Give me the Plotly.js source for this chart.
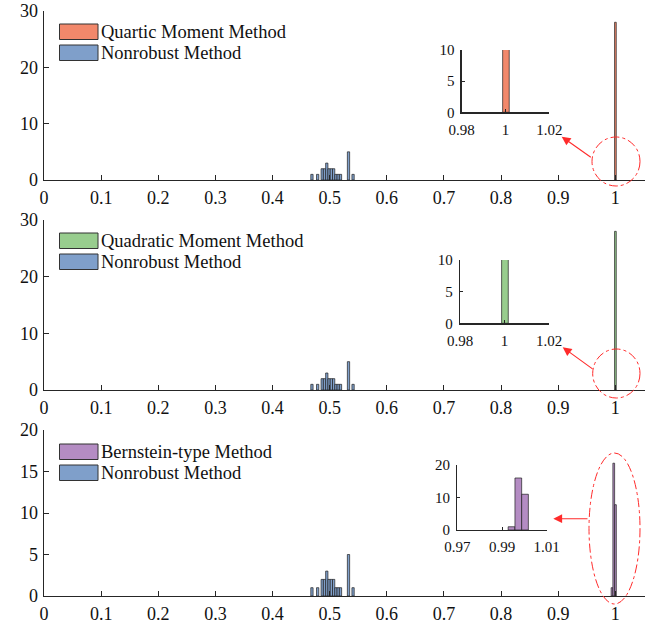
<!DOCTYPE html>
<html>
<head>
<meta charset="utf-8">
<script src="https://cdn.plot.ly/plotly-3.0.1.min.js"></script>
<style>html,body{margin:0;padding:0;background:#fff;}#chart{width:668px;height:626px;}</style>
</head>
<body>
<div id="chart"></div>
<script>
// ---- data ----
const xTickVals = [0, 0.1, 0.2, 0.3, 0.4, 0.5, 0.6, 0.7, 0.8, 0.9, 1];
const xTickText = ['0', '0.1', '0.2', '0.3', '0.4', '0.5', '0.6', '0.7', '0.8', '0.9', '1'];

const nonrobustX = [0.469, 0.479, 0.487, 0.491, 0.495, 0.499, 0.503, 0.507, 0.511, 0.515, 0.519, 0.533, 0.541];
const nonrobustCount = [1, 1, 2, 2, 3, 2, 2, 2, 1, 1, 1, 5, 1];
const nonrobustWidth = 0.004;

const quarticX = [1.0002];
const quarticCount = [28];
const quadraticX = [1.0002];
const quadraticCount = [28];
const bernsteinX = [0.99425, 0.9973, 1.0003];
const bernsteinCount = [1, 16, 11];
const methodWidth = 0.003;

const legendNames1 = ['Quartic Moment Method', 'Nonrobust Method'];
const legendNames2 = ['Quadratic Moment Method', 'Nonrobust Method'];
const legendNames3 = ['Bernstein-type Method', 'Nonrobust Method'];

const inset1Ticks = [0.98, 1, 1.02], inset1Text = ['0.98', '1', '1.02'];
const inset3Ticks = [0.97, 0.99, 1.01], inset3Text = ['0.97', '0.99', '1.01'];

// ---- style ----
const C = {
  blue: '#7f9fca', orange: '#f2886b', green: '#98cd8e', purple: '#b48cc3',
  edge: '#1f1f1f', axis: '#262626', red: '#ff2b2b'
};
const FONT = 'Liberation Serif, Times New Roman, serif';
const W = 668, H = 626, ML = 44, MR = 23, MT = 11, MB = 30;
const PW = W - ML - MR, PH = H - MT - MB;
const px = p => (p - ML) / PW;
const py = p => 1 - (p - MT) / PH;

function bar(x, y, color, w, xa, ya) {
  return {
    type: 'bar', x: x, y: y, width: x.map(() => w), xaxis: xa, yaxis: ya,
    marker: {color: color, line: {color: C.edge, width: 0.7}},
    showlegend: false, hoverinfo: 'skip'
  };
}

const data = [
  bar(nonrobustX, nonrobustCount, C.blue, nonrobustWidth, 'x', 'y'),
  bar(quarticX, quarticCount, C.orange, methodWidth, 'x', 'y'),
  bar(nonrobustX, nonrobustCount, C.blue, nonrobustWidth, 'x2', 'y2'),
  bar(quadraticX, quadraticCount, C.green, methodWidth, 'x2', 'y2'),
  bar(nonrobustX, nonrobustCount, C.blue, nonrobustWidth, 'x3', 'y3'),
  bar(bernsteinX, bernsteinCount, C.purple, methodWidth, 'x3', 'y3'),
  bar(quarticX, quarticCount, C.orange, methodWidth, 'x4', 'y4'),
  bar(quadraticX, quadraticCount, C.green, methodWidth, 'x5', 'y5'),
  bar(bernsteinX, bernsteinCount, C.purple, methodWidth, 'x6', 'y6')
];

function xax(anchor, domain, range, tv, tt, size, len, so) {
  return {
    anchor: anchor, domain: domain, range: range, tickvals: tv, ticktext: tt,
    showline: true, linecolor: C.axis, linewidth: 1.3, ticks: 'inside', ticklen: len,
    tickcolor: C.axis, tickwidth: 1, showgrid: false, zeroline: false, fixedrange: true,
    ticklabelstandoff: so,
    tickfont: {family: FONT, size: size, color: '#111'}
  };
}
function yax(anchor, domain, range, tv, size, len, so) {
  return {
    anchor: anchor, domain: domain, range: range, tickvals: tv, ticktext: tv.map(String),
    showline: true, linecolor: C.axis, linewidth: 1.3, ticks: 'inside', ticklen: len,
    tickcolor: C.axis, tickwidth: 1, showgrid: false, zeroline: false, fixedrange: true,
    ticklabelstandoff: so,
    tickfont: {family: FONT, size: size, color: '#111'}
  };
}

const mainX = [0, 1];
const xr = [0, 1.052];
const layout = {
  width: W, height: H,
  margin: {l: ML, r: MR, t: MT, b: MB, pad: 0},
  paper_bgcolor: '#fff', plot_bgcolor: 'rgba(0,0,0,0)',
  barmode: 'overlay', showlegend: false,
  font: {family: FONT, size: 18, color: '#111'},
  xaxis: xax('y', mainX, xr, xTickVals, xTickText, 18, 5, 1),
  yaxis: yax('x', [py(180), 1], [0, 30], [0, 10, 20, 30], 18, 5, 1),
  xaxis2: xax('y2', mainX, xr, xTickVals, xTickText, 18, 5, 1),
  yaxis2: yax('x2', [py(390), py(220)], [0, 30], [0, 10, 20, 30], 18, 5, 1),
  xaxis3: xax('y3', mainX, xr, xTickVals, xTickText, 18, 5, 1),
  yaxis3: yax('x3', [0, py(430)], [0, 20], [0, 5, 10, 15, 20], 18, 5, 1),
  xaxis4: xax('y4', [px(461.7), px(549.3)], [0.98, 1.02], inset1Ticks, inset1Text, 15, 3, 3),
  yaxis4: yax('x4', [py(112.3), py(50)], [0, 10], [0, 5, 10], 15, 3, 3),
  xaxis5: xax('y5', [px(460), px(549)], [0.98, 1.02], inset1Ticks, inset1Text, 15, 3, 3),
  yaxis5: yax('x5', [py(323.3), py(260)], [0, 10], [0, 5, 10], 15, 3, 3),
  xaxis6: xax('y6', [px(457.3), px(546.7)], [0.97, 1.01], inset3Ticks, inset3Text, 15, 3, 3),
  yaxis6: yax('x6', [py(530), py(465)], [0, 20], [0, 10, 20], 15, 3, 3),
  shapes: [], annotations: []
};

// manual legends (wide MATLAB-style patches)
function addLegend(names, colors, top) {
  names.forEach((n, i) => {
    const y0 = top + i * 21;
    layout.shapes.push({type: 'rect', xref: 'paper', yref: 'paper',
      x0: px(59.5), x1: px(98), y0: py(y0 + 15.5), y1: py(y0),
      fillcolor: colors[i], line: {color: '#333', width: 1}});
    layout.annotations.push({xref: 'paper', yref: 'paper', x: px(99), y: py(y0 + 8),
      xanchor: 'left', yanchor: 'middle', text: n, showarrow: false,
      font: {family: FONT, size: 18.5, color: '#111'}});
  });
}
addLegend(legendNames1, [C.orange, C.blue], 24);
addLegend(legendNames2, [C.green, C.blue], 233);
addLegend(legendNames3, [C.purple, C.blue], 444);

// dash-dot callout circles / ellipse
function ellipse(x0, x1, yTop, yBot) {
  layout.shapes.push({type: 'circle', xref: 'paper', yref: 'paper',
    x0: px(x0), x1: px(x1), y0: py(yBot), y1: py(yTop),
    line: {color: C.red, width: 1, dash: 'dashdot'}, fillcolor: 'rgba(0,0,0,0)'});
}
ellipse(592, 640, 137, 186);
ellipse(592.7, 640, 349, 398);
ellipse(589, 640, 453, 604);

// arrows pointing to the insets
function arrow(hx, hy, tx, ty) {
  layout.annotations.push({xref: 'paper', yref: 'paper', x: px(hx), y: py(hy),
    ax: tx - hx, ay: ty - hy, axref: 'pixel', ayref: 'pixel', text: '',
    showarrow: true, arrowhead: 2, arrowsize: 1.6, arrowwidth: 1.1, arrowcolor: C.red,
    standoff: 0, startstandoff: 0});
}
arrow(561.7, 136.7, 592.3, 158.3);
arrow(562.7, 347.3, 594, 370);
arrow(553.3, 518.7, 589, 518.7);

Plotly.newPlot('chart', data, layout, {displayModeBar: false, staticPlot: true});
</script>
</body>
</html>
